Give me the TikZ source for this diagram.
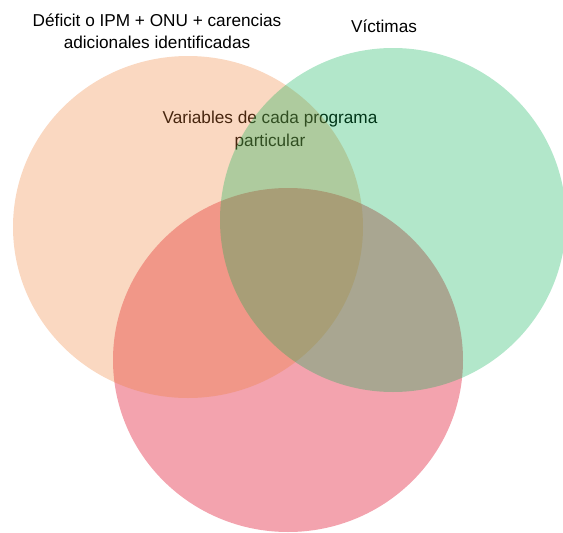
\documentclass[tikz,border=0pt]{standalone}
\usepackage{fontspec}
\setmainfont{Liberation Sans}
\definecolor{vpink}{RGB}{243,163,174}
\definecolor{vorange}{RGB}{237,125,49}
\definecolor{vgreen}{RGB}{0,176,80}
\begin{document}
\begin{tikzpicture}[x=1pt,y=-1pt,
  lbl/.style={inner sep=0pt, align=center, font=\fontsize{17.2}{21.5}\selectfont, text=black},
  setA/.style={fill=vorange, fill opacity=0.3, draw=none},
  setB/.style={fill=vgreen, fill opacity=0.3, draw=none},
  setC/.style={fill=vpink, draw=none}]
\useasboundingbox (0,0) rectangle (563,533);
\node[lbl, anchor=base, font=\fontsize{17.2}{23}\selectfont] (mid) at (270,146) {Variables de cada programa\\particular};
\fill[setC] (288,360) ellipse [x radius=175, y radius=172];
\fill[setA] (188,227) ellipse [x radius=175, y radius=171];
\fill[setB] (393,220) ellipse [x radius=173, y radius=172];
\node[lbl, anchor=base] (deficit) at (157,48) {Déficit o IPM + ONU + carencias\\adicionales identificadas};
\node[lbl, anchor=base] (victimas) at (384,32) {Víctimas};
\end{tikzpicture}
\end{document}
